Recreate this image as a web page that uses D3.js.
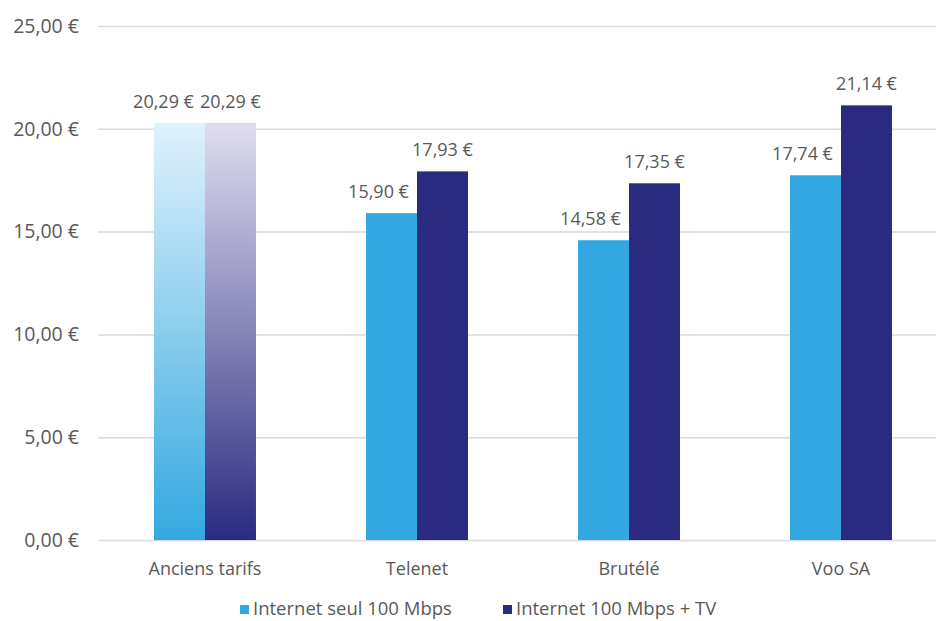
<!DOCTYPE html>
<html><head><meta charset="utf-8">
<script src="https://cdn.jsdelivr.net/npm/d3@7"></script>
<style>body{margin:0;background:#fff}svg{display:block}text{font-family:"Open Sans","Noto Sans",sans-serif;fill:#595959}</style>
</head><body><svg id="c" width="936" height="621"></svg>
<script>
const categories = ["Anciens tarifs","Telenet","Brutélé","Voo SA"];
const seriesNames = ["Internet seul 100 Mbps","Internet 100 Mbps + TV"];
const internetSeul = [20.29,15.90,14.58,17.74];
const internetTV = [20.29,17.93,17.35,21.14];
const yTicks = [0,5,10,15,20,25];
const colors = ["#33a8e0","#2a2a80"];
const gradTops = ["#e0f2fb","#e0deee"];

const svg = d3.select("#c");
const fmt = v => v.toFixed(2).replace(".", ",") + " €";
const x = d3.scaleBand().domain(categories).range([101,945]).paddingInner(0.519).paddingOuter(0.25);
const xs = d3.scaleBand().domain([0,1]).range([0,x.bandwidth()]);
const y = d3.scaleLinear().domain([0,25]).range([540,26]);

const defs = svg.append("defs");
colors.forEach((c,i)=>{
  const g = defs.append("linearGradient").attr("id","g"+i).attr("x1",0).attr("y1",0).attr("x2",0).attr("y2",1);
  g.append("stop").attr("offset","0%").attr("stop-color",gradTops[i]);
  g.append("stop").attr("offset","100%").attr("stop-color",c);
});

svg.append("g").selectAll("line").data(yTicks).join("line")
  .attr("x1",98).attr("x2",936).attr("y1",d=>y(d)+0.5).attr("y2",d=>y(d)+0.5)
  .attr("stroke","#d9d9d9").attr("stroke-width",1.5);
svg.append("g").selectAll("text").data(yTicks).join("text")
  .attr("x",79).attr("y",d=>y(d)).attr("dy","0.35em").attr("text-anchor","end")
  .attr("font-size",19.5).text(d=>fmt(d));

const series = [internetSeul, internetTV];
const labelShift = [-13, 0];
series.forEach((vals,si)=>{
  const g = svg.append("g");
  g.selectAll("rect").data(categories).join("rect")
    .attr("x",d=>x(d)+xs(si)).attr("width",xs.bandwidth())
    .attr("y",(d,i)=>y(vals[i])).attr("height",(d,i)=>y(0)-y(vals[i]))
    .attr("fill",(d,i)=> i===0 ? `url(#g${si})` : colors[si]);
  g.selectAll("text").data(categories).join("text")
    .attr("x",(d,i)=>x(d)+xs(si)+xs.bandwidth()/2 + labelShift[si] - (i===0&&si===0?3:0))
    .attr("y",(d,i)=>y(vals[i])-15).attr("text-anchor","middle")
    .attr("font-size",18).text((d,i)=>fmt(vals[i]));
});

svg.append("g").selectAll("text").data(categories).join("text")
  .attr("x",d=>x(d)+x.bandwidth()/2).attr("y",575).attr("text-anchor","middle")
  .attr("font-size",18).text(d=>d);

const leg = svg.append("g");
const legX = [240,503];
seriesNames.forEach((n,i)=>{
  leg.append("rect").attr("x",legX[i]).attr("y",605).attr("width",9).attr("height",9).attr("fill",colors[i]);
  leg.append("text").attr("x",legX[i]+13).attr("y",615).attr("font-size",18.5).text(n);
});
</script></body></html>
